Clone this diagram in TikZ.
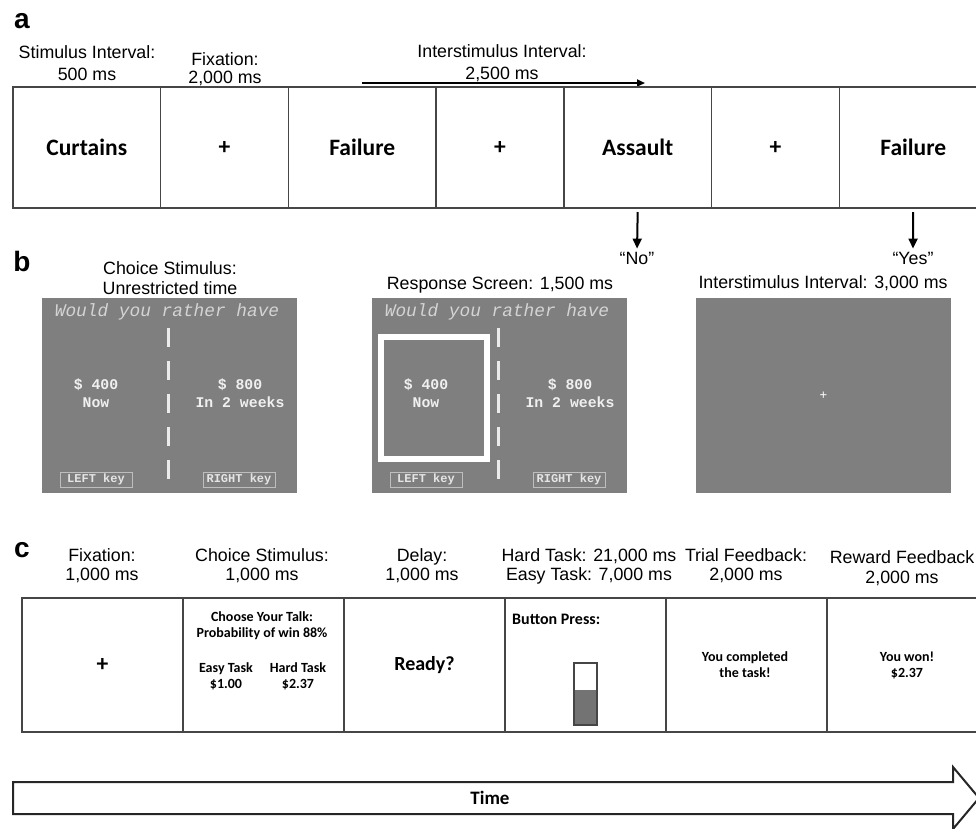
\documentclass[tikz,border=0pt]{standalone}
\usepackage{fontspec}
\setmainfont{Liberation Sans}
\setmonofont{Liberation Mono}
\newfontfamily\calibri{Carlito}
\usepackage{tikz}
\usetikzlibrary{positioning,arrows.meta}
\definecolor{boxline}{RGB}{70,70,70}
\definecolor{screengray}{RGB}{127,127,127}
\definecolor{headgray}{RGB}{212,212,212}
\definecolor{keygray}{RGB}{190,190,190}
\definecolor{barfill}{RGB}{115,115,115}
\tikzset{
  panel/.style={font=\bfseries\fontsize{28}{28}\selectfont,inner sep=0pt},
  lbl/.style={font=\fontsize{17.8}{22}\selectfont,align=center,inner sep=0pt},
  lblc/.style={font=\fontsize{17.8}{19}\selectfont,align=center,inner sep=0pt},
  wordbox/.style={rectangle,draw=boxline,line width=1.2pt,outer sep=0pt,inner sep=0pt,minimum width=147.5pt,minimum height=121pt,font=\calibri\bfseries\fontsize{23.5}{23.5}\selectfont},
  fixbox/.style={wordbox,minimum width=128pt},
  trialbox/.style={wordbox,minimum width=161pt,minimum height=134pt},
  small/.style={font=\calibri\bfseries\fontsize{14}{16}\selectfont,align=center,inner sep=0pt},
  screen/.style={rectangle,fill=screengray,outer sep=0pt,inner sep=0pt,minimum width=255pt,minimum height=195pt},
  scrhead/.style={font=\ttfamily\itshape\fontsize{17.8}{17.8}\selectfont,text=headgray,inner sep=0pt},
  scrval/.style={font=\ttfamily\bfseries\fontsize{14.8}{18}\selectfont,text=white!94!black,align=center,inner sep=0pt},
  keybox/.style={rectangle,draw=keygray,line width=0.8pt,inner sep=0pt,minimum width=72pt,minimum height=15pt,font=\ttfamily\bfseries\fontsize{12}{12}\selectfont,text=white!90!black},
  pick/.style={rectangle,draw=white,line width=6pt,minimum width=106pt,minimum height=122pt},
  divider/.style={white!92!black,line width=3pt,dash pattern=on 19pt off 14pt},
  isi/.style={-{Triangle[length=8pt,width=7pt]},line width=2pt},
  resp/.style={-{Triangle[length=10pt,width=9pt]},line width=2pt},
  timearrow/.style={draw=black!85,line width=2pt,fill=white,line join=miter}
}

\begin{document}
\begin{tikzpicture}[x=1pt,y=-1pt,node distance=0pt]
  \useasboundingbox (0,0) rectangle (976,828);
  \clip (0,0) rectangle (976,828);

  \node[panel] (pa) at (22,21) {a};
  \node[lbl] (stimlbl) at (87,63) {Stimulus Interval:\\500 ms};
  \node[lbl,font=\fontsize{17.8}{18}\selectfont] (fixlbl) at (225,69) {Fixation:\\2,000 ms};
  \node[lbl] (isilbl) at (502,63) {Interstimulus Interval:\\2,500 ms};
  \coordinate (isistart) at (362,83);
  \coordinate (isiend) at (645,83);
  \draw[isi] (isistart) -- (isiend);

  \node[wordbox,anchor=north west] (curtains) at (13,87) {Curtains};
  \node[fixbox,right=of curtains] (fixa1) {+};
  \node[wordbox,right=of fixa1] (failure1) {Failure};
  \node[fixbox,right=of failure1] (fixa2) {+};
  \node[wordbox,right=of fixa2] (assault) {Assault};
  \node[fixbox,right=of assault] (fixa3) {+};
  \node[wordbox,right=of fixa3] (failure2) {Failure};

  \node[lbl] (no) at (637,258) {“No”};
  \node[lbl] (yes) at (913,258) {“Yes”};
  \draw[resp,shorten <=4pt,shorten >=3pt] (assault.south) -- (no.north);
  \draw[resp,shorten <=4pt,shorten >=3pt] (failure2.south) -- (yes.north);

  \node[panel] (pb) at (22,261) {b};
  \node[screen,anchor=north west] (choice) at (42,298) {};
  \node[screen,anchor=north west] (response) at (372,298) {};
  \node[screen,anchor=north west] (isiscreen) at (696,298) {};
  \node[lbl,font=\fontsize{17.8}{20}\selectfont] (choicelbl) at (170,278) {Choice Stimulus:\\Unrestricted time};
  \node[lbl] (resplbl) at (500,285) {Response Screen: 1,500 ms};
  \node[lbl] (isilbl2) at (823,283) {Interstimulus Interval: 3,000 ms};

  \node[pick] (pick) at (434,397.5) {};
  \foreach \s/\ox in {choice/42,response/372}{
    \node[scrhead] (head-\s) at (\ox+125,312) {Would you rather have};
    \draw[divider] (\ox+126,328) -- (\ox+126,484);
    \node[scrval] (now-\s) at (\ox+54,393) {\$ 400\\Now};
    \node[scrval] (later-\s) at (\ox+198,393) {\$ 800\\In 2 weeks};
    \node[keybox] (left-\s) at (\ox+54,479.5) {LEFT key};
    \node[keybox] (right-\s) at (\ox+197,479.5) {RIGHT key};
  }
  \node[text=white,font=\fontsize{13}{13}\selectfont,inner sep=0pt] (isifix) at (isiscreen) {+};

  \node[panel] (pc) at (22,550) {c};
  \node[lblc] (fixclbl) at (102,566) {Fixation:\\1,000 ms};
  \node[lblc] (choiceclbl) at (262,566) {Choice Stimulus:\\1,000 ms};
  \node[lblc] (delaylbl) at (422,566) {Delay:\\1,000 ms};
  \node[lblc] (presslbl) at (589,566) {Hard Task: 21,000 ms\\Easy Task: 7,000 ms};
  \node[lblc] (donelbl) at (746,566) {Trial Feedback:\\2,000 ms};
  \node[lblc,font=\fontsize{17.8}{20}\selectfont] (wonlbl) at (902,568) {Reward Feedback\\2,000 ms};

  \node[trialbox,anchor=north west] (fixc) at (22,598) {+};
  \node[trialbox,right=of fixc] (choicec) {};
  \node[trialbox,right=of choicec] (delay) {\fontsize{20}{20}\selectfont Ready?};
  \node[trialbox,right=of delay] (press) {};
  \node[trialbox,right=of press] (done) {};
  \node[trialbox,right=of done] (won) {};

  \node[small] (talk) at (262,626) {Choose Your Talk:\\Probability of win 88\%};
  \node[small] (easy) at (226,676) {Easy Task\\\$1.00};
  \node[small] (hard) at (298,676) {Hard Task\\\$2.37};
  \node[small,font=\calibri\bfseries\fontsize{16}{16}\selectfont,anchor=west] (button) at (512,619) {Button Press:};
  \fill[barfill] (574,690) rectangle (597,725);
  \draw[boxline,line width=1.8pt] (574,663) rectangle (597,725);
  \node[small] (donetxt) at (745,665) {You completed\\the task!};
  \node[small] (wontxt) at (907,665) {You won!\\\$2.37};

  \draw[timearrow] (13,782) -- (953,782) -- (953,767) -- (979,798) -- (953,829) -- (953,814) -- (13,814) -- cycle;
  \node[font=\calibri\bfseries\fontsize{19}{19}\selectfont] (time) at (490,798) {Time};
\end{tikzpicture}
\end{document}
